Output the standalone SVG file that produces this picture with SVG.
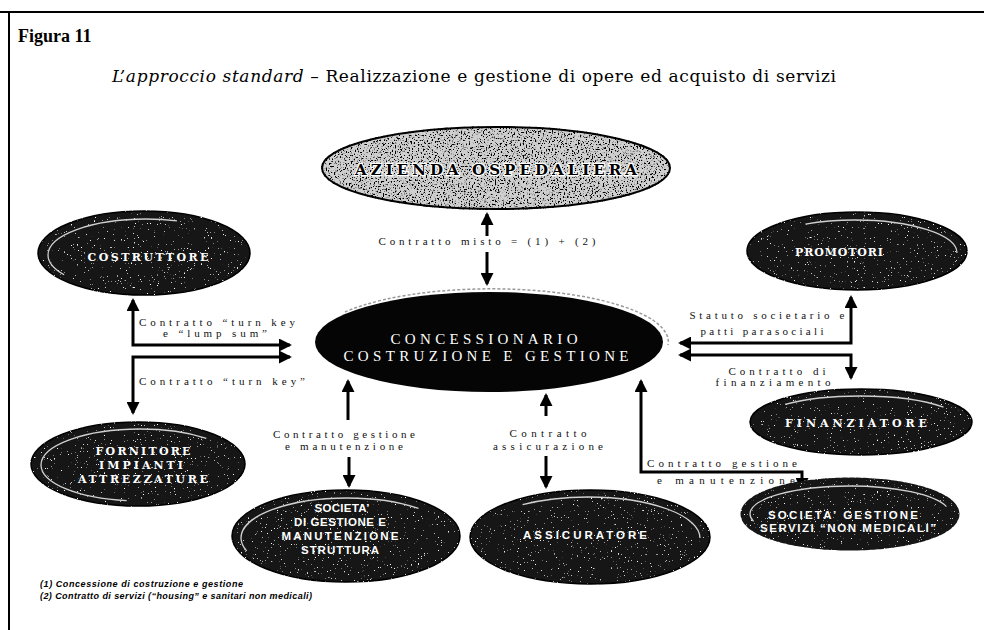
<svg xmlns="http://www.w3.org/2000/svg" width="984" height="630" viewBox="0 0 984 630">
<style>
.frame{stroke:#000;stroke-width:2;fill:none}
.conn{stroke:#000;stroke-width:3;fill:none}
.lbl{font-family:"Liberation Serif",serif;font-size:11px;fill:#111}
.dark{fill:#141414;stroke:#000;stroke-width:1.5}
.hl{fill:none;stroke:#d0d0d0;stroke-width:1.3}
.wserif{font-family:"DejaVu Serif",serif;font-weight:bold;fill:#fff;font-size:11px}
.wsans{font-family:"Liberation Sans",sans-serif;font-weight:bold;fill:#fff;font-size:11.5px}
.title{font-family:"DejaVu Serif",serif;fill:#000}
.foot{font-family:"Liberation Sans",sans-serif;font-weight:bold;font-style:italic;font-size:9px;fill:#000}
</style>
<defs>
<marker id="ah" viewBox="0 0 10 10" refX="8.5" refY="5" markerWidth="13" markerHeight="13" markerUnits="userSpaceOnUse" orient="auto-start-reverse">
<path d="M0,0 L10,5 L0,10 z" fill="#000"/>
</marker>
<filter id="spkW" x="-5%" y="-5%" width="110%" height="110%">
<feTurbulence type="fractalNoise" baseFrequency="0.7" numOctaves="2" seed="7" result="n"/>
<feColorMatrix in="n" type="matrix" values="0 0 0 0 1 0 0 0 0 1 0 0 0 0 1 10 0 0 0 -7.1" result="d"/>
<feComposite in="d" in2="SourceAlpha" operator="in" result="d2"/>
<feMerge><feMergeNode in="SourceGraphic"/><feMergeNode in="d2"/></feMerge>
</filter>
<filter id="spkG" x="-5%" y="-5%" width="110%" height="110%">
<feTurbulence type="fractalNoise" baseFrequency="0.65" numOctaves="2" seed="3" result="n"/>
<feColorMatrix in="n" type="matrix" values="0 0 0 0 0 0 0 0 0 0 0 0 0 0 0 8 0 0 0 -4.3" result="d"/>
<feComposite in="d" in2="SourceAlpha" operator="in" result="d2"/>
<feMerge><feMergeNode in="SourceGraphic"/><feMergeNode in="d2"/></feMerge>
</filter>
</defs>

<rect width="984" height="630" fill="#fff"/>
<path class="frame" d="M0,12 H984 M9,12 V630"/>

<text x="18" y="42" font-family="Liberation Serif,serif" font-size="18" font-weight="bold" fill="#000">Figura 11</text>
<text class="title" x="112" y="82" font-size="17" textLength="724"><tspan font-style="italic">L’approccio standard</tspan> – Realizzazione e gestione di opere ed acquisto di servizi</text>

<g id="connectors">
<path class="conn" d="M487,236 V214" marker-end="url(#ah)"/>
<path class="conn" d="M487,252 V284" marker-end="url(#ah)"/>
<path class="conn" d="M290,345 H133 V300" marker-start="url(#ah)" marker-end="url(#ah)"/>
<path class="conn" d="M290,357 H133 V413" marker-start="url(#ah)" marker-end="url(#ah)"/>
<path class="conn" d="M680,343 H851 V297" marker-start="url(#ah)" marker-end="url(#ah)"/>
<path class="conn" d="M680,355 H851 V378" marker-start="url(#ah)" marker-end="url(#ah)"/>
<path class="conn" d="M348,420 V381" marker-end="url(#ah)"/>
<path class="conn" d="M349,457 V486" marker-end="url(#ah)"/>
<path class="conn" d="M546,416 V395" marker-end="url(#ah)"/>
<path class="conn" d="M546,456 V487" marker-end="url(#ah)"/>
<path class="conn" d="M641,381 V472 H802 V489" marker-start="url(#ah)" marker-end="url(#ah)"/>
<text class="lbl" x="487" y="245" text-anchor="middle" textLength="217">Contratto misto = (1) + (2)</text>
<text class="lbl" x="139" y="326" textLength="156">Contratto “turn key</text>
<text class="lbl" x="215" y="337" text-anchor="middle" textLength="104">e “lump sum”</text>
<text class="lbl" x="139" y="385" textLength="166">Contratto “turn key”</text>
<text class="lbl" x="767" y="319" text-anchor="middle" textLength="155">Statuto societario e</text>
<text class="lbl" x="762" y="335" text-anchor="middle" textLength="123">patti parasociali</text>
<text class="lbl" x="777" y="375" text-anchor="middle" textLength="97">Contratto di</text>
<text class="lbl" x="773" y="386" text-anchor="middle" textLength="115">finanziamento</text>
<text class="lbl" x="344" y="438" text-anchor="middle" textLength="142">Contratto gestione</text>
<text class="lbl" x="344" y="450" text-anchor="middle" textLength="118">e manutenzione</text>
<text class="lbl" x="548" y="437" text-anchor="middle" textLength="77">Contratto</text>
<text class="lbl" x="548" y="450" text-anchor="middle" textLength="110">assicurazione</text>
<text class="lbl" x="647" y="467" textLength="150">Contratto gestione</text>
<text class="lbl" x="657" y="484" textLength="138">e manutenzione</text>
</g>

<g id="azienda">
<ellipse cx="496" cy="168" rx="174" ry="41" fill="#cfcfcf" stroke="#000" stroke-width="2" filter="url(#spkG)"/>
<text x="496" y="175" text-anchor="middle" font-family="DejaVu Serif,serif" font-weight="bold" font-size="15" fill="#000" stroke="#fff" stroke-width="2.5" paint-order="stroke" textLength="282">AZIENDA OSPEDALIERA</text>
</g>

<g id="concessionario">
<ellipse cx="489" cy="342" rx="174" ry="50" fill="#050505"/>
<path d="M345,312 A177,53 0 0 1 668,345" fill="none" stroke="#999" stroke-width="1.5" stroke-dasharray="3 2"/>
<text x="484" y="344" text-anchor="middle" font-family="Liberation Serif,serif" font-size="15" fill="#fff" textLength="187">CONCESSIONARIO</text>
<text x="486" y="361" text-anchor="middle" font-family="Liberation Serif,serif" font-size="15" fill="#fff" textLength="285">COSTRUZIONE E GESTIONE</text>
</g>

<g id="costruttore">
<ellipse class="dark" cx="144" cy="253" rx="106" ry="42" filter="url(#spkW)"/>
<ellipse class="hl" cx="146" cy="255" rx="98" ry="36" pathLength="100" style="stroke-dasharray:0 44 38 18"/>
<text class="wserif" x="148" y="261" text-anchor="middle" textLength="121">COSTRUTTORE</text>
</g>

<g id="promotori">
<ellipse class="dark" cx="857" cy="251" rx="110" ry="39" filter="url(#spkW)"/>
<ellipse class="hl" cx="855" cy="253" rx="102" ry="33" pathLength="100" style="stroke-dasharray:0 64 36"/>
<text class="wserif" x="839" y="256" text-anchor="middle" textLength="88">PROMOTORI</text>
</g>

<g id="finanziatore">
<ellipse class="dark" cx="861" cy="422" rx="111" ry="33" filter="url(#spkW)"/>
<ellipse class="hl" cx="860" cy="423" rx="103" ry="27" pathLength="100" style="stroke-dasharray:0 58 36 6"/>
<text class="wserif" x="856" y="427" text-anchor="middle" textLength="142">FINANZIATORE</text>
</g>

<g id="fornitore">
<ellipse class="dark" cx="138" cy="464" rx="107" ry="42" filter="url(#spkW)"/>
<ellipse class="hl" cx="140" cy="465" rx="99" ry="36" pathLength="100" style="stroke-dasharray:0 28 62 10"/>
<text class="wserif" x="143" y="455" text-anchor="middle" textLength="95">FORNITORE</text>
<text class="wserif" x="141" y="469" text-anchor="middle" textLength="84">IMPIANTI</text>
<text class="wserif" x="143" y="483" text-anchor="middle" textLength="130">ATTREZZATURE</text>
</g>

<g id="societa-gestione">
<ellipse class="dark" cx="346" cy="536" rx="114" ry="46" filter="url(#spkW)"/>
<ellipse class="hl" cx="347" cy="538" rx="106" ry="40" pathLength="100" style="stroke-dasharray:0 47 43 10"/>
<text class="wsans" x="342" y="512" text-anchor="middle" textLength="55">SOCIETA’</text>
<text class="wsans" x="340" y="526" text-anchor="middle" textLength="92">DI GESTIONE E</text>
<text class="wsans" x="340" y="540" text-anchor="middle" textLength="117">MANUTENZIONE</text>
<text class="wsans" x="340" y="554" text-anchor="middle" textLength="78">STRUTTURA</text>
</g>

<g id="assicuratore">
<ellipse class="dark" cx="590" cy="537" rx="120" ry="47" filter="url(#spkW)"/>
<ellipse class="hl" cx="588" cy="538" rx="112" ry="41" pathLength="100" style="stroke-dasharray:0 62 40"/>
<text class="wsans" x="585" y="539" text-anchor="middle" textLength="124">ASSICURATORE</text>
</g>

<g id="servizi-non-medicali">
<ellipse cx="850" cy="514" rx="106" ry="33" fill="#141414" stroke="#141414" stroke-width="7" stroke-dasharray="4 3" stroke-linecap="round" filter="url(#spkW)"/>
<ellipse class="hl" cx="850" cy="514" rx="100" ry="28" pathLength="100" style="stroke-dasharray:0 48 50 2"/>
<text class="wsans" x="843" y="519" text-anchor="middle" textLength="150">SOCIETA’ GESTIONE</text>
<text class="wsans" x="848" y="532" text-anchor="middle" textLength="176">SERVIZI “NON MEDICALI”</text>
</g>

<g id="footnotes">
<text class="foot" x="40" y="587" textLength="203">(1) Concessione di costruzione e gestione</text>
<text class="foot" x="40" y="599" textLength="272">(2) Contratto di servizi (“housing” e sanitari non medicali)</text>
</g>
</svg>
